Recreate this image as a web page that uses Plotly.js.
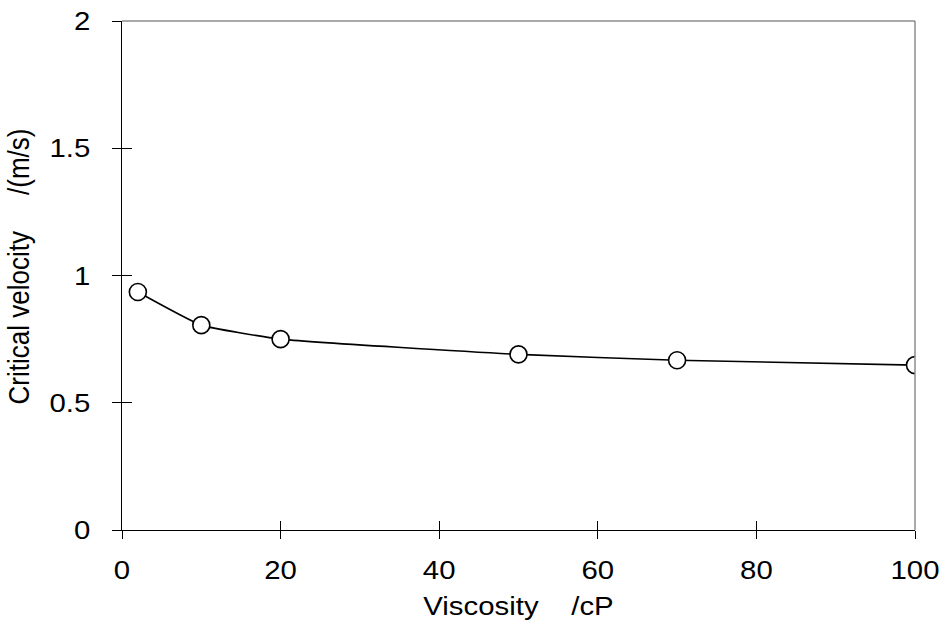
<!DOCTYPE html>
<html>
<head>
<meta charset="utf-8">
<script src="https://cdn.plot.ly/plotly-3.0.1.min.js"></script>
<style>html,body{margin:0;padding:0;background:#fff;}#chart{width:948px;height:626px;}</style>
</head>
<body>
<div id="chart"></div>
<script>
const viscosity = [2, 10, 20, 50, 70, 100];
const criticalVelocity = [0.935, 0.805, 0.75, 0.69, 0.667, 0.648];
const xTicks = [0, 20, 40, 60, 80, 100];
const yTicks = [0, 0.5, 1, 1.5, 2];
const yTickText = ['0', '0.5', '1', '1.5', '2'];
const xTitle = 'Viscosity\u00A0\u00A0\u00A0\u00A0/cP';
const yTitle = 'Critical velocity\u00A0\u00A0\u00A0\u00A0\u00A0/(m/s)';

const FAMILY = '"Liberation Sans", Arial, sans-serif';
const font = {family: FAMILY, size: 26, color: '#000'};
const TEXT_STRETCH = 1.13;
const Y_TITLE_SHIFT = -9;

const trace = {
  x: viscosity, y: criticalVelocity, type: 'scatter', mode: 'lines+markers',
  line: {color: '#000', width: 1.6, shape: 'spline', smoothing: 0.4},
  marker: {symbol: 'circle', size: 17, color: '#fff', line: {color: '#000', width: 1.6}},
  hoverinfo: 'skip', showlegend: false
};

const layout = {
  width: 948, height: 626,
  margin: {l: 121.5, r: 33, t: 20.5, b: 96},
  paper_bgcolor: '#fff', plot_bgcolor: '#fff',
  font: font, showlegend: false,
  xaxis: {
    range: [0, 100], tickvals: xTicks, ticktext: xTicks.map(String),
    showgrid: false, zeroline: false, showline: true, linecolor: '#000', linewidth: 1.3,
    ticks: 'outside', ticklen: 8, tickwidth: 1, tickcolor: '#000',
    ticklabelstandoff: 9, tickfont: font,
    title: {text: xTitle, font: font, standoff: 12}
  },
  yaxis: {
    range: [0, 2], tickvals: yTicks, ticktext: yTickText,
    showgrid: false, zeroline: false, showline: true, linecolor: '#000', linewidth: 1.5,
    ticks: 'outside', ticklen: 9, tickwidth: 1, tickcolor: '#000',
    ticklabelstandoff: 16, tickfont: font,
    title: {text: yTitle, font: font, standoff: 17}
  },
  xaxis2: {
    overlaying: 'x', anchor: 'y2', range: [0, 100], tickvals: xTicks,
    showticklabels: false, showgrid: false, zeroline: false, showline: false,
    ticks: 'inside', ticklen: 9, tickwidth: 1, tickcolor: '#000'
  },
  yaxis2: {
    overlaying: 'y', anchor: 'x2', range: [0, 2], tickvals: yTicks,
    showticklabels: false, showgrid: false, zeroline: false, showline: false,
    ticks: 'inside', ticklen: 10, tickwidth: 1, tickcolor: '#000'
  },
  shapes: [
    {type: 'line', xref: 'paper', yref: 'paper', x0: 0, x1: 1, y0: 1, y1: 1, line: {color: '#8c8c8c', width: 1.5}},
    {type: 'line', xref: 'paper', yref: 'paper', x0: 1, x1: 1, y0: 0, y1: 1, line: {color: '#8c8c8c', width: 1.5}}
  ]
};

const placeholder = {x: [], y: [], xaxis: 'x2', yaxis: 'y2', type: 'scatter', mode: 'markers', hoverinfo: 'skip', showlegend: false};

function stretchText(gd) {
  const s = TEXT_STRETCH;
  gd.querySelectorAll('g.xtick text, g.ytick text, g.g-xtitle text').forEach(t => {
    const x = parseFloat(t.getAttribute('x')) || 0;
    const y = parseFloat(t.getAttribute('y')) || 0;
    const old = t.getAttribute('transform') || '';
    t.setAttribute('transform', old + ` translate(${x},${y}) scale(${s},1) translate(${-x},${-y})`);
  });
  gd.querySelectorAll('g.g-ytitle text').forEach(t => {
    const x = parseFloat(t.getAttribute('x')) || 0;
    const y = parseFloat(t.getAttribute('y')) || 0;
    const old = t.getAttribute('transform') || '';
    t.setAttribute('transform', `translate(0,${Y_TITLE_SHIFT}) translate(${x},${y}) scale(${s},1) translate(${-x},${-y}) ` + old);
  });
}

Plotly.newPlot('chart', [placeholder, trace], layout, {staticPlot: true, displayModeBar: false})
  .then(gd => stretchText(gd));
</script>
</body>
</html>
